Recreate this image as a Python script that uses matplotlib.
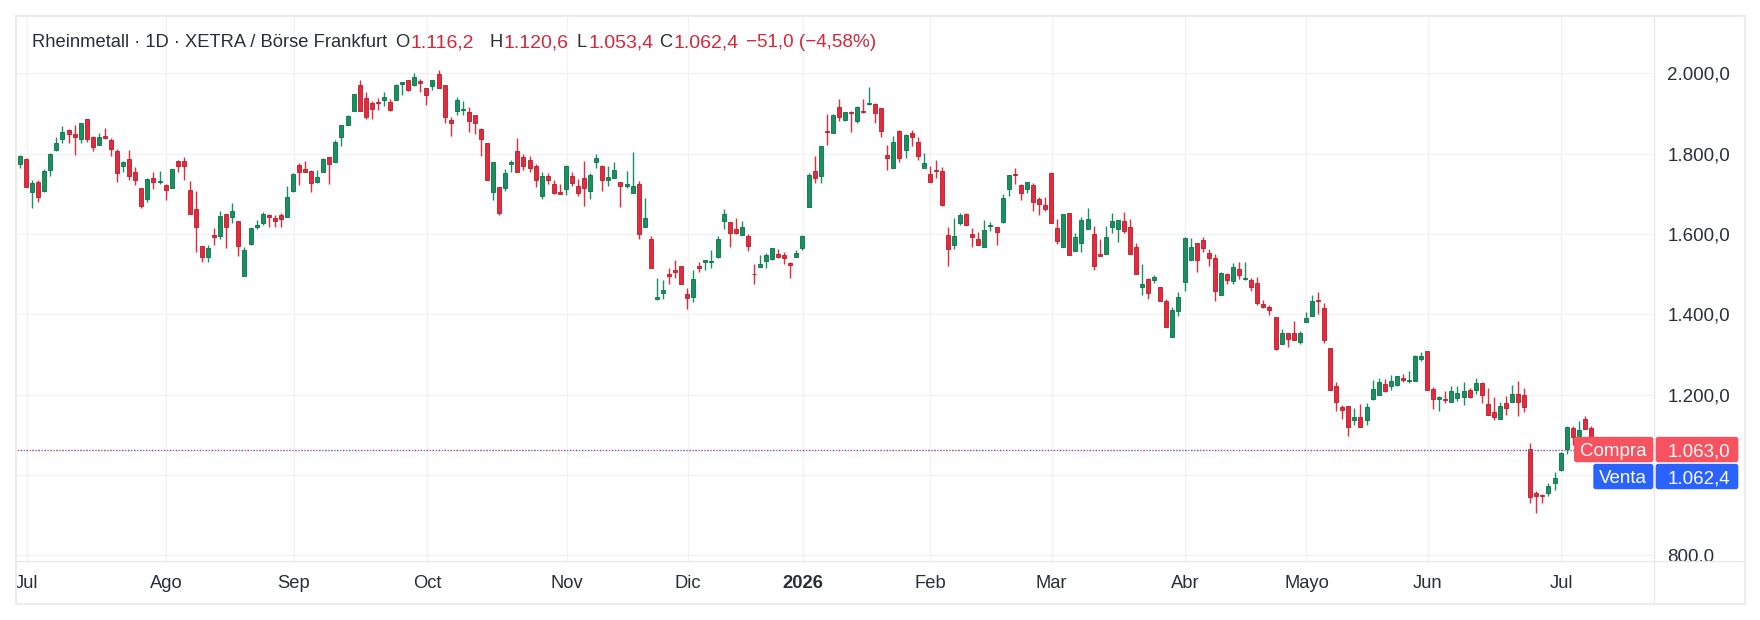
import numpy as np
import pandas as pd
import matplotlib
matplotlib.use("Agg")
import matplotlib.pyplot as plt
from matplotlib.patches import Rectangle, FancyBboxPatch
from matplotlib.lines import Line2D
from matplotlib.transforms import IdentityTransform, blended_transform_factory

plt.rcParams['font.family'] = ['Liberation Sans', 'DejaVu Sans']

# ---------------- data ----------------
holidays = ["2025-12-24", "2025-12-25", "2025-12-26", "2025-12-31",
            "2026-01-01", "2026-04-03", "2026-04-06", "2026-05-01"]
dates = pd.bdate_range("2025-06-30", "2026-07-08")
dates = dates[~dates.isin(pd.to_datetime(holidays))]

opens = [
    1773, 1787, 1705, 1729, 1707, 1758, 1810, 1836, 1859, 1849,
    1836, 1885, 1841, 1821, 1843, 1833, 1807, 1770, 1786, 1753,
    1714, 1688, 1739, 1729, 1722, 1715, 1782, 1782, 1710, 1662,
    1570, 1542, 1597, 1596, 1650, 1641, 1631, 1494, 1576, 1618,
    1626, 1646, 1640, 1646, 1643, 1707, 1772, 1762, 1757, 1729,
    1755, 1792, 1780, 1842, 1872, 1905, 1971, 1939, 1926, 1929,
    1934, 1929, 1934, 1974, 1983, 1972, 1981, 1963, 1969, 1998,
    1971, 1883, 1905, 1909, 1903, 1895, 1861, 1826, 1705, 1716,
    1715, 1773, 1807, 1791, 1784, 1769, 1695, 1744, 1724, 1704,
    1713, 1744, 1719, 1739, 1708, 1780, 1769, 1735, 1740, 1729,
    1720, 1703, 1724, 1618, 1587, 1439, 1454, 1499, 1510, 1520,
    1450, 1444, 1520, 1529, 1530, 1542, 1631, 1629, 1612, 1598,
    1595, 1501, 1517, 1532, 1538, 1550, 1547, 1528, 1542, 1566,
    1666, 1757, 1745, 1857, 1852, 1915, 1884, 1904, 1882, 1906,
    1924, 1924, 1913, 1797, 1765, 1856, 1808, 1851, 1829, 1763,
    1749, 1760, 1757, 1597, 1573, 1627, 1650, 1600, 1587, 1568,
    1619, 1617, 1630, 1713, 1749, 1721, 1713, 1721, 1686, 1671,
    1751, 1614, 1568, 1651, 1558, 1578, 1612, 1600, 1549, 1549,
    1616, 1611, 1632, 1617, 1568, 1467, 1488, 1484, 1467, 1432,
    1343, 1407, 1479, 1534, 1578, 1584, 1552, 1540, 1449, 1501,
    1482, 1512, 1487, 1486, 1478, 1425, 1418, 1394, 1325, 1352,
    1352, 1330, 1380, 1395, 1436, 1416, 1317, 1220, 1168, 1171,
    1137, 1144, 1137, 1189, 1200, 1226, 1222, 1224, 1241, 1234,
    1234, 1289, 1308, 1214, 1190, 1189, 1182, 1192, 1195, 1211,
    1210, 1229, 1176, 1157, 1140, 1179, 1182, 1201, 1199, 1065,
    955, 949, 954, 979, 1012, 1065, 1117, 1094, 1139, 1116.2,
]
highs = [
    1797, 1789, 1734, 1734, 1762, 1802, 1841, 1869, 1861, 1871,
    1876, 1885, 1843, 1851, 1863, 1838, 1811, 1782, 1809, 1766,
    1714, 1739, 1754, 1757, 1724, 1761, 1784, 1792, 1732, 1707,
    1570, 1573, 1615, 1657, 1650, 1676, 1631, 1567, 1614, 1635,
    1655, 1649, 1646, 1651, 1719, 1751, 1777, 1782, 1759, 1759,
    1789, 1792, 1834, 1871, 1896, 1949, 1983, 1954, 1930, 1939,
    1954, 1936, 1973, 1978, 1983, 2000, 1986, 1963, 1983, 2008,
    1971, 1891, 1941, 1931, 1916, 1895, 1863, 1826, 1778, 1716,
    1762, 1784, 1839, 1799, 1793, 1774, 1754, 1752, 1734, 1724,
    1771, 1754, 1737, 1782, 1752, 1799, 1772, 1769, 1779, 1729,
    1757, 1804, 1732, 1690, 1595, 1490, 1485, 1514, 1535, 1520,
    1465, 1510, 1530, 1535, 1560, 1595, 1662, 1629, 1640, 1632,
    1600, 1525, 1548, 1552, 1564, 1563, 1555, 1530, 1560, 1597,
    1752, 1794, 1819, 1899, 1899, 1936, 1903, 1906, 1918, 1936,
    1966, 1926, 1913, 1822, 1844, 1859, 1849, 1859, 1841, 1802,
    1769, 1784, 1767, 1617, 1640, 1652, 1652, 1615, 1605, 1635,
    1630, 1617, 1700, 1746, 1765, 1724, 1729, 1726, 1693, 1692,
    1754, 1637, 1649, 1651, 1602, 1642, 1665, 1620, 1588, 1620,
    1652, 1634, 1655, 1637, 1578, 1525, 1491, 1498, 1469, 1437,
    1419, 1456, 1593, 1590, 1578, 1593, 1563, 1549, 1506, 1503,
    1528, 1530, 1530, 1491, 1493, 1435, 1422, 1394, 1364, 1354,
    1384, 1359, 1406, 1448, 1456, 1429, 1317, 1232, 1175, 1171,
    1167, 1176, 1179, 1236, 1241, 1239, 1248, 1246, 1251, 1258,
    1298, 1306, 1308, 1219, 1197, 1209, 1221, 1221, 1231, 1216,
    1241, 1231, 1216, 1194, 1181, 1196, 1224, 1234, 1216, 1080,
    960, 951, 979, 1007, 1057, 1122, 1122, 1134, 1147, 1120.6,
]
lows = [
    1763, 1718, 1665, 1680, 1705, 1745, 1807, 1827, 1827, 1797,
    1827, 1830, 1807, 1821, 1836, 1795, 1730, 1755, 1734, 1722,
    1665, 1680, 1712, 1725, 1685, 1715, 1753, 1734, 1649, 1556,
    1531, 1531, 1573, 1587, 1566, 1628, 1546, 1494, 1573, 1613,
    1622, 1618, 1617, 1618, 1643, 1705, 1723, 1753, 1705, 1727,
    1755, 1725, 1780, 1820, 1872, 1905, 1905, 1887, 1887, 1909,
    1919, 1906, 1934, 1947, 1957, 1969, 1954, 1922, 1959, 1964,
    1875, 1845, 1897, 1897, 1855, 1850, 1795, 1733, 1685, 1646,
    1708, 1753, 1755, 1760, 1753, 1718, 1688, 1724, 1700, 1700,
    1698, 1720, 1695, 1670, 1688, 1764, 1708, 1719, 1738, 1668,
    1715, 1703, 1588, 1618, 1514, 1436, 1439, 1474, 1491, 1474,
    1412, 1431, 1504, 1511, 1514, 1539, 1612, 1568, 1601, 1598,
    1558, 1476, 1517, 1514, 1535, 1539, 1524, 1491, 1542, 1560,
    1666, 1728, 1728, 1822, 1852, 1880, 1882, 1855, 1875, 1902,
    1922, 1875, 1842, 1760, 1763, 1780, 1790, 1820, 1785, 1763,
    1730, 1738, 1669, 1521, 1563, 1622, 1623, 1568, 1573, 1568,
    1607, 1573, 1627, 1695, 1725, 1685, 1703, 1656, 1646, 1658,
    1626, 1576, 1568, 1548, 1558, 1556, 1612, 1509, 1544, 1549,
    1603, 1581, 1603, 1551, 1501, 1447, 1439, 1477, 1432, 1367,
    1343, 1395, 1459, 1534, 1504, 1554, 1519, 1434, 1449, 1474,
    1474, 1487, 1484, 1459, 1424, 1415, 1397, 1310, 1325, 1318,
    1335, 1325, 1380, 1395, 1400, 1328, 1211, 1159, 1138, 1097,
    1125, 1120, 1125, 1186, 1200, 1207, 1212, 1222, 1232, 1229,
    1234, 1284, 1210, 1165, 1160, 1180, 1182, 1185, 1175, 1192,
    1202, 1180, 1150, 1137, 1140, 1150, 1182, 1147, 1157, 931,
    904, 931, 946, 961, 1009, 1051, 1075, 1090, 1114, 1053.4,
]
closes = [
    1794, 1718, 1727, 1693, 1757, 1799, 1826, 1854, 1850, 1842,
    1876, 1836, 1817, 1841, 1839, 1811, 1751, 1779, 1743, 1733,
    1670, 1737, 1730, 1732, 1710, 1761, 1768, 1768, 1649, 1617,
    1542, 1565, 1592, 1645, 1616, 1657, 1571, 1560, 1614, 1622,
    1649, 1641, 1633, 1636, 1692, 1749, 1753, 1755, 1728, 1742,
    1787, 1775, 1829, 1871, 1894, 1949, 1905, 1892, 1910, 1926,
    1941, 1909, 1972, 1978, 1959, 1990, 1977, 1947, 1983, 1964,
    1890, 1877, 1933, 1911, 1880, 1877, 1837, 1733, 1778, 1653,
    1751, 1778, 1755, 1768, 1763, 1733, 1744, 1733, 1703, 1700,
    1768, 1728, 1703, 1715, 1747, 1789, 1733, 1742, 1759, 1720,
    1724, 1719, 1601, 1639, 1514, 1442, 1460, 1496, 1506, 1474,
    1441, 1488, 1516, 1535, 1533, 1587, 1650, 1603, 1602, 1617,
    1571, 1499, 1524, 1547, 1564, 1543, 1539, 1522, 1553, 1595,
    1746, 1739, 1819, 1855, 1896, 1890, 1903, 1902, 1915, 1903,
    1926, 1900, 1857, 1788, 1829, 1790, 1846, 1842, 1795, 1777,
    1730, 1758, 1671, 1563, 1595, 1647, 1623, 1593, 1573, 1610,
    1622, 1605, 1690, 1746, 1748, 1703, 1729, 1680, 1675, 1663,
    1628, 1583, 1649, 1548, 1592, 1634, 1636, 1519, 1545, 1593,
    1632, 1634, 1608, 1551, 1501, 1475, 1454, 1493, 1432, 1369,
    1411, 1444, 1590, 1567, 1536, 1564, 1541, 1457, 1502, 1484,
    1518, 1497, 1491, 1467, 1429, 1417, 1410, 1313, 1352, 1338,
    1335, 1352, 1391, 1434, 1434, 1335, 1211, 1181, 1161, 1118,
    1144, 1120, 1169, 1214, 1231, 1209, 1234, 1246, 1237, 1236,
    1296, 1296, 1210, 1190, 1195, 1186, 1209, 1204, 1209, 1195,
    1229, 1200, 1150, 1145, 1171, 1167, 1201, 1182, 1170, 944,
    946, 946, 972, 993, 1055, 1119, 1093, 1112, 1114, 1062.4,
]

month_labels = ["Jul", "Ago", "Sep", "Oct", "Nov", "Dic", "2026",
                "Feb", "Mar", "Abr", "Mayo", "Jun", "Jul"]
price_ticks = [800, 1000, 1200, 1400, 1600, 1800, 2000]
ask_price = 1063.0
bid_price = 1062.4
header_name = "Rheinmetall · 1D · XETRA / Börse Frankfurt"
ohlc_letters = ["O", "H", "L", "C"]
ohlc_values = ["1.116,2", "1.120,6", "1.053,4", "1.062,4"]
change_text = "\u221251,0 (\u22124,58%)"

# ---------------- style ----------------
W, H = 1760, 620
FS = 13.2
FS_AX = 13.5
FS_VAL = 14.0
TXT = "#2a2e39"
RED_TXT = "#d1293a"
UP, UP_E = "#15925e", "#0c6f46"
DN, DN_E = "#e8293c", "#b31d2c"
GRID = "#f1f2f4"
FRAME = "#e6e7ea"
ASK_C = "#f7525f"
BID_C = "#2962ff"


def fmt_price(v):
    s = f"{v:,.1f}"
    return s.replace(",", "X").replace(".", ",").replace("X", ".")


fig = plt.figure(figsize=(W / 100, H / 100), dpi=100)
fig.patch.set_facecolor("white")

pl, pr, pt, pb = 16.7, 1654.3, 17.0, 560.7
ax = fig.add_axes([pl / W, 1 - pb / H, (pr - pl) / W, (pb - pt) / H])
ax.set_facecolor("white")
for s in ax.spines.values():
    s.set_visible(False)

o = np.array(opens, float)
h = np.array(highs, float)
l = np.array(lows, float)
c = np.array(closes, float)
x = np.arange(len(dates))

ax.set_xlim(-0.55, 269.45)
ax.set_ylim(786.1, 2140.2)

# month boundaries
mon = dates.month.values
month_idx = [i for i in range(1, len(dates)) if mon[i] != mon[i - 1]]

for m in month_idx:
    ax.axvline(m + 0.1, color=GRID, lw=1.0, zorder=0)
for p in price_ticks:
    ax.axhline(p, color=GRID, lw=1.0, zorder=0)

up = c >= o
fill = np.where(up, UP, DN)
edge = np.where(up, UP_E, DN_E)
ax.vlines(x, l, h, colors=fill, lw=1.0, zorder=2)
body_h = np.maximum(np.abs(c - o), 2.2)
body_b = np.where(np.abs(c - o) < 2.2, (o + c) / 2 - 1.1, np.minimum(o, c))
ax.bar(x, body_h, bottom=body_b, width=0.66, color=fill, edgecolor=edge,
       linewidth=0.6, zorder=3)

# current price dotted lines
ax.axhline(ask_price, color=ASK_C, lw=1.0, ls=(0, (1.1, 3.2)), zorder=4)
ax.axhline(bid_price, color=BID_C, lw=1.0, ls=(2.15, (1.1, 3.2)), zorder=4)

# axes ticks
ax.tick_params(axis="x", bottom=False, labelbottom=False)
ax.yaxis.tick_right()
ax.set_yticks(price_ticks)
ax.set_yticklabels([fmt_price(p) for p in price_ticks])
ax.tick_params(axis="y", length=0, pad=9.3, labelsize=FS_AX, labelcolor=TXT)

# month labels
bt = blended_transform_factory(ax.transData, fig.transFigure)
for m, lab in zip(month_idx, month_labels):
    ax.text(m + 0.1, 1 - 582.0 / H, lab, transform=bt, ha="center",
            va="center_baseline", fontsize=FS, color=TXT, clip_on=False,
            fontweight="bold" if lab.isdigit() else "normal")

# cover for clipped price label in time axis strip
fig.add_artist(Rectangle((1655 / W, 1 - 603 / H), (1743 - 1655) / W,
                         (603 - pb) / H, transform=fig.transFigure,
                         facecolor="white", edgecolor="none", zorder=5))
# separators and frame
fig.add_artist(Line2D([16 / W, 1744 / W], [1 - pb / H] * 2,
                      transform=fig.transFigure, color=FRAME, lw=0.9, zorder=6))
fig.add_artist(Line2D([pr / W] * 2, [1 - 17 / H, 1 - 603 / H],
                      transform=fig.transFigure, color=FRAME, lw=0.9, zorder=6))
fig.add_artist(Rectangle((15.5 / W, 1 - 604 / H), (1744.5 - 15.5) / W,
                         (604 - 16) / H, transform=fig.transFigure,
                         fill=False, edgecolor="#ececee", lw=1.6, zorder=6))

# price labels (Compra / Venta)
ident = IdentityTransform()
ya = ax.transData.transform((0, ask_price))[1]
yb = ya - 27.0
bh = 25.4
for yc, name, val, col, x0 in [(ya, "Compra", fmt_price(ask_price), ASK_C, 1574.0),
                               (yb, "Venta", fmt_price(bid_price), BID_C, 1593.3)]:
    fig.add_artist(FancyBboxPatch((x0, yc - bh / 2), 1653.3 - x0, bh,
                                  boxstyle="round,pad=0,rounding_size=2.5",
                                  transform=ident, facecolor=col,
                                  edgecolor="none", zorder=7))
    fig.add_artist(FancyBboxPatch((1655.7, yc - bh / 2), 1738.3 - 1655.7, bh,
                                  boxstyle="round,pad=0,rounding_size=2.5",
                                  transform=ident, facecolor=col,
                                  edgecolor="none", zorder=7))
    fig.text((x0 + 1653.3) / 2, yc, name, transform=ident, ha="center",
             va="center_baseline", color="white", fontsize=FS_AX, zorder=8)
    fig.text(1730.5, yc, val, transform=ident, ha="right",
             va="center_baseline", color="white", fontsize=FS_AX, zorder=8)

# header
renderer = fig.canvas.get_renderer()
hy = H - 40.5
fig.text(31.6, hy, header_name, transform=ident, ha="left",
         va="center_baseline", color=TXT, fontsize=FS, zorder=8)
letter_x = [395.0, 489.7, 577.0, 659.0]
for lx, let, val in zip(letter_x, ohlc_letters, ohlc_values):
    t = fig.text(lx, hy, let, transform=ident, ha="left",
                 va="center_baseline", color=TXT, fontsize=FS, zorder=8)
    bb = t.get_window_extent(renderer)
    fig.text(bb.x1 + 1.0, hy, val, transform=ident, ha="left",
             va="center_baseline", color=RED_TXT, fontsize=FS_VAL, zorder=8)
fig.text(746.0, hy, change_text, transform=ident, ha="left",
         va="center_baseline", color=RED_TXT, fontsize=13.6, zorder=8)

fig.savefig("out.png", dpi=100, facecolor="white")
